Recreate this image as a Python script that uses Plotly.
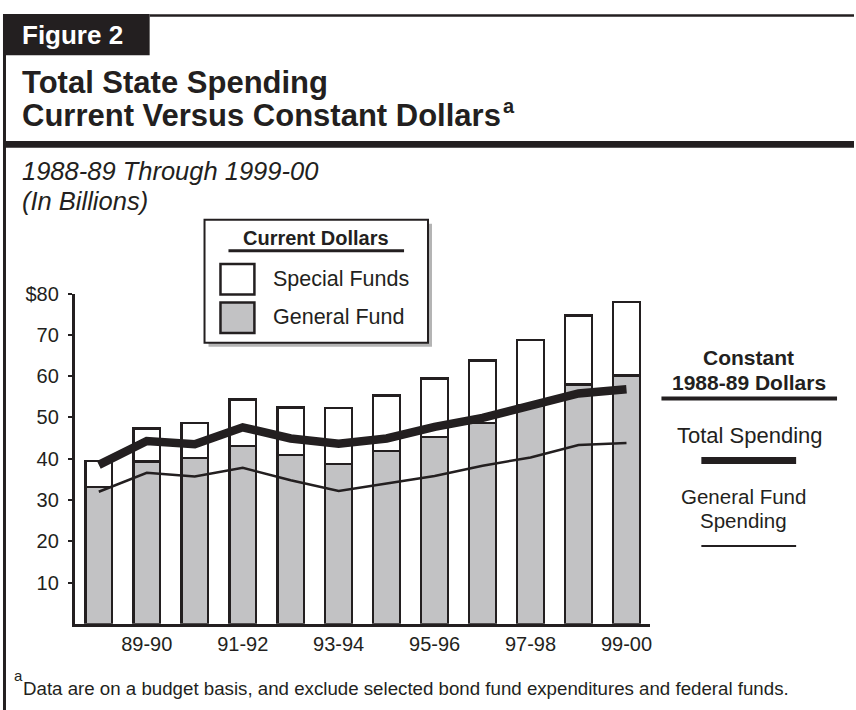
import plotly.graph_objects as go

# ---- data (billions of dollars) ----
fiscal_years = ["88-89", "89-90", "90-91", "91-92", "92-93", "93-94",
                "94-95", "95-96", "96-97", "97-98", "98-99", "99-00"]
general_fund_current = [33.2, 39.3, 40.2, 43.1, 40.9, 38.7, 41.9, 45.3, 48.7, 52.9, 58.0, 60.2]
special_funds_current = [6.3, 8.0, 8.5, 11.2, 11.5, 13.6, 13.4, 14.1, 15.1, 15.8, 16.7, 17.7]
total_constant = [38.5, 44.3, 43.5, 47.6, 44.9, 43.6, 44.9, 47.7, 49.9, 52.6, 55.8, 56.8]
general_fund_constant = [32.0, 36.6, 35.7, 37.8, 34.8, 32.2, 34.0, 35.8, 38.3, 40.3, 43.3, 43.8]
shown_year_labels = ["89-90", "91-92", "93-94", "95-96", "97-98", "99-00"]
y_tick_values = [10, 20, 30, 40, 50, 60, 70, 80]
y_tick_labels = ["10", "20", "30", "40", "50", "60", "70", "$80"]

W, H = 856, 710
INK = "#231f20"
GRAY = "#c2c2c4"
FONT = "Liberation Sans, Arial, sans-serif"


def px(x):
    return x / W


def py(y):
    return 1 - y / H


x_idx = list(range(len(fiscal_years)))

fig = go.Figure()

fig.add_trace(go.Bar(
    x=x_idx, y=general_fund_current, width=0.56,
    marker=dict(color=GRAY, line=dict(color=INK, width=2.5)),
    name="General Fund",
))
fig.add_trace(go.Bar(
    x=x_idx, y=special_funds_current, width=0.56,
    marker=dict(color="white", line=dict(color=INK, width=2.5)),
    name="Special Funds",
))
fig.add_trace(go.Scatter(
    x=x_idx, y=general_fund_constant, mode="lines",
    line=dict(color=INK, width=2.5), name="General Fund Spending",
))
fig.add_trace(go.Scatter(
    x=x_idx, y=total_constant, mode="lines",
    line=dict(color=INK, width=8.5), name="Total Spending",
))

shapes = []
annotations = []


def hline(x0, x1, y, width, color=INK):
    shapes.append(dict(type="line", xref="paper", yref="paper",
                       x0=px(x0), x1=px(x1), y0=py(y), y1=py(y),
                       line=dict(color=color, width=width)))


def rect(x0, y0, x1, y1, fill, lw=0, lc=INK):
    shapes.append(dict(type="rect", xref="paper", yref="paper",
                       x0=px(x0), x1=px(x1), y0=py(y1), y1=py(y0),
                       fillcolor=fill, line=dict(color=lc, width=lw), layer="above"))


def text(s, x, y, size, bold=False, italic=False, color=INK, anchor="left"):
    t = s
    if bold:
        t = "<b>" + t + "</b>"
    if italic:
        t = "<i>" + t + "</i>"
    annotations.append(dict(text=t, xref="paper", yref="paper",
                            x=px(x), y=py(y), xanchor=anchor, yanchor="middle",
                            showarrow=False,
                            font=dict(family=FONT, size=size, color=color)))


# frame: left rule, top rule, heavy rule under the title
rect(3, 3, 6, 710, INK)
hline(150, 856, 4.5, 2.5)
rect(3, 132, 856, 139, INK)
# "Figure 2" tab
rect(3, 3, 150, 45, INK)
text("Figure 2", 20, 24, 26, bold=True, color="white")

# titles
text("Total State Spending", 20, 72.5, 31, bold=True)
text("Current Versus Constant Dollars", 20, 106, 31, bold=True)
text("a", 502, 97, 20, bold=True)
text("1988-89 Through 1999-00", 20, 163, 25.5, italic=True)
text("(In Billions)", 20, 193, 25.5, italic=True)

# current-dollar legend box
rect(209, 216, 433, 341, "#b4b4b4")
rect(205, 212, 429, 337, "white", lw=2, lc=INK)
text("Current Dollars", 317, 231, 20, bold=True, anchor="center")
hline(229, 405, 243.5, 3)
rect(221, 257, 255, 288, "white", lw=2.5)
rect(221, 296, 255, 327, GRAY, lw=2.5)
text("Special Funds", 272, 272.5, 21.5)
text("General Fund", 272, 311, 21.5)

# constant-dollar legend
text("Constant", 750, 352, 21, bold=True, anchor="center")
text("1988-89 Dollars", 751, 377, 21, bold=True, anchor="center")
hline(663, 839, 393.5, 4)
text("Total Spending", 752, 431, 22, anchor="center")
hline(703, 798, 456.5, 7)
text("General Fund", 745, 493.5, 20.5, anchor="center")
text("Spending", 745, 517.5, 20.5, anchor="center")
hline(703, 798, 543.5, 2)

# footnote
text("a", 12, 675, 15)
text("Data are on a budget basis, and exclude selected bond fund expenditures and federal funds.",
     21, 688, 18.7)

fig.update_layout(
    width=W, height=H,
    margin=dict(l=0, r=0, t=0, b=0),
    paper_bgcolor="white", plot_bgcolor="white",
    barmode="stack", showlegend=False, hovermode=False,
    shapes=shapes, annotations=annotations,
    xaxis=dict(
        domain=[px(75), px(652)], range=[-0.5, 11.5],
        showgrid=False, zeroline=False, showline=True,
        linecolor=INK, linewidth=3, ticks="",
        tickmode="array",
        tickvals=[fiscal_years.index(v) for v in shown_year_labels],
        ticktext=shown_year_labels,
        tickfont=dict(family=FONT, size=20, color=INK),
        ticklabelstandoff=0,
    ),
    yaxis=dict(
        domain=[py(622.5), py(287)], range=[0, 80],
        showgrid=False, zeroline=False, showline=True,
        linecolor=INK, linewidth=3,
        ticks="outside", ticklen=4, tickwidth=2, tickcolor=INK,
        tickmode="array", tickvals=y_tick_values, ticktext=y_tick_labels,
        tickfont=dict(family=FONT, size=20, color=INK),
        ticklabelstandoff=5,
    ),
)

fig.write_html("out.html")
